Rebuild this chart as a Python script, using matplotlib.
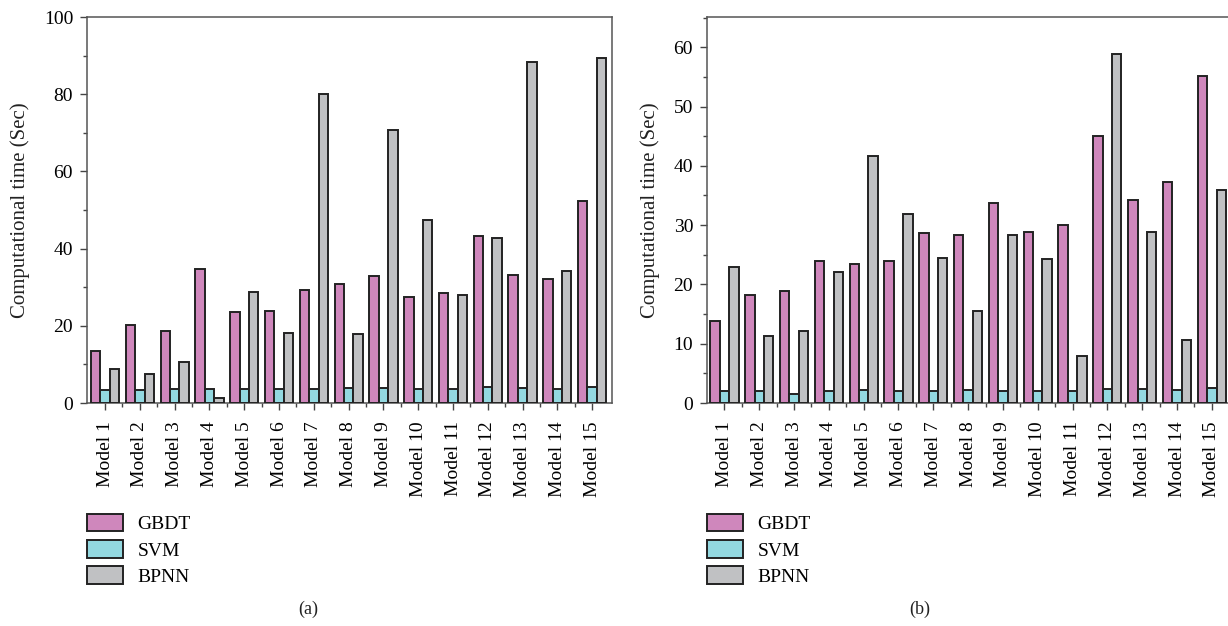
import numpy as np
import matplotlib
matplotlib.use("Agg")
import matplotlib.pyplot as plt
from matplotlib.patches import Patch
from matplotlib.ticker import MultipleLocator

plt.rcParams['font.family'] = ['Liberation Serif', 'DejaVu Serif']

models = ["Model %d" % i for i in range(1, 16)]
series = ["GBDT", "SVM", "BPNN"]
colors = ["#cf87bc", "#93d8e0", "#c0c1c3"]

# panel (a)
gbdt_a = [13.6, 20.1, 18.7, 34.8, 23.7, 23.9, 29.4, 30.9, 32.9, 27.4, 28.4, 43.2, 33.2, 32.2, 52.3]
svm_a = [3.3, 3.3, 3.6, 3.6, 3.6, 3.6, 3.6, 3.8, 4.0, 3.7, 3.7, 4.1, 3.9, 3.7, 4.1]
bpnn_a = [8.9, 7.4, 10.5, 1.2, 28.7, 18.1, 80.0, 17.8, 70.6, 47.5, 28.1, 42.7, 88.4, 34.2, 89.5]

# panel (b)
gbdt_b = [13.8, 18.2, 18.9, 24.0, 23.4, 23.9, 28.7, 28.4, 33.7, 28.8, 30.1, 45.0, 34.3, 37.2, 55.2]
svm_b = [2.0, 2.0, 1.6, 2.0, 2.2, 2.1, 2.1, 2.2, 2.1, 2.1, 2.1, 2.4, 2.3, 2.2, 2.5]
bpnn_b = [22.9, 11.3, 12.1, 22.1, 41.7, 31.9, 24.4, 15.6, 28.3, 24.3, 8.0, 58.8, 28.8, 10.7, 36.0]

W, H = 1228, 626
fig = plt.figure(figsize=(W / 100, H / 100), dpi=100)


def draw(ax, data, ylim, major, minor, xlim):
    x = np.arange(1, len(models) + 1)
    bw = 0.27
    for k, (vals, c) in enumerate(zip(data, colors)):
        ax.bar(x + (k - 1) * bw, vals, bw, color=c, edgecolor="#222222", linewidth=1.4, zorder=3)
    ax.set_xlim(*xlim)
    ax.set_ylim(*ylim)
    ax.set_xticks(x)
    ax.set_xticklabels(models, rotation=90, fontsize=14)
    ax.set_xticks(np.arange(1.5, 15.5, 1), minor=True)
    ax.yaxis.set_major_locator(MultipleLocator(major))
    ax.yaxis.set_minor_locator(MultipleLocator(minor))
    ax.tick_params(axis="both", which="major", direction="out", length=5, width=1, color="#444444", labelsize=14)
    ax.tick_params(axis="x", which="major", pad=8)
    ax.tick_params(axis="y", which="major", pad=5)
    ax.tick_params(axis="both", which="minor", direction="out", length=3, width=1, color="#444444")
    ax.set_ylabel("Computational time (Sec)", fontsize=15, color="#222222", labelpad=10)
    for s in ax.spines.values():
        s.set_color("#555555")
        s.set_linewidth(1.1)


ax1 = fig.add_axes([87 / W, (H - 403) / H, (612 - 87) / W, 386 / H])
draw(ax1, [gbdt_a, svm_a, bpnn_a], (0, 100), 20, 10, (0.48, 15.57))

ax2 = fig.add_axes([707 / W, (H - 403) / H, (1231 - 707) / W, 386 / H])
draw(ax2, [gbdt_b, svm_b, bpnn_b], (0, 65.1), 10, 5, (0.5, 15.55))

handles = [Patch(facecolor=c, edgecolor="#222222", linewidth=1.4) for c in colors]
for xl in [87, 707]:
    fig.legend(handles, series, loc="upper left", bbox_to_anchor=(xl / W, 1 - 514 / H),
               frameon=False, fontsize=14, handlelength=1.85, handleheight=1.0,
               labelspacing=0.35, handletextpad=0.75, borderaxespad=0, borderpad=0)

fig.text(308 / W, 1 - 609 / H, "(a)", ha="center", va="center", fontsize=13, color="#222222")
fig.text(920 / W, 1 - 609 / H, "(b)", ha="center", va="center", fontsize=13, color="#222222")

fig.savefig("out.png", dpi=100)
